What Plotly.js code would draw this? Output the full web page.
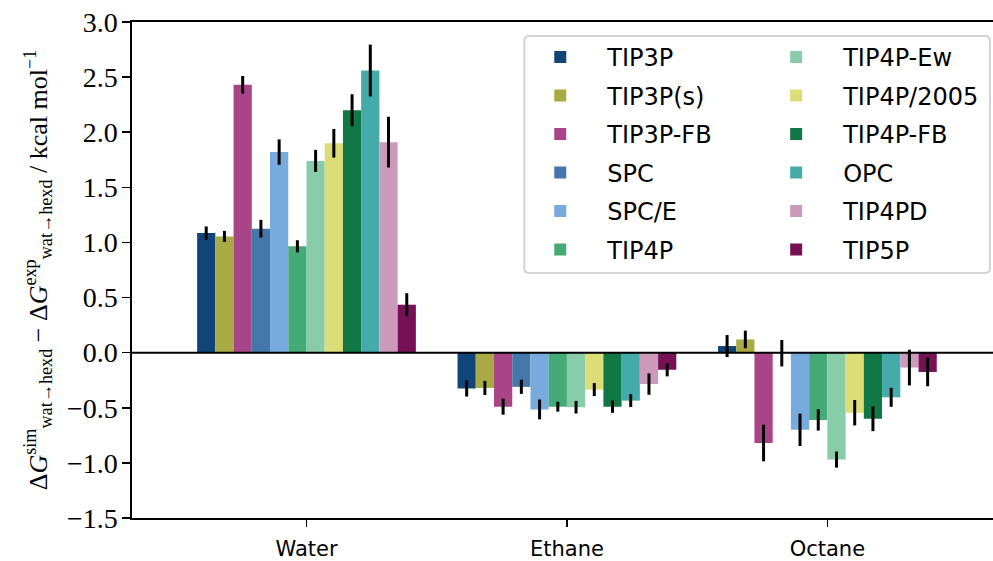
<!DOCTYPE html>
<html>
<head>
<meta charset="utf-8">
<script src="https://cdn.plot.ly/plotly-3.0.1.min.js"></script>
<style>html,body{margin:0;padding:0;background:#fff;}#chart{width:993px;height:561px;}</style>
</head>
<body>
<div id="chart"></div>
<script>
// ---- data ----
var categories = ['Water', 'Ethane', 'Octane'];
var models = ['TIP3P', 'TIP3P(s)', 'TIP3P-FB', 'SPC', 'SPC/E', 'TIP4P',
              'TIP4P-Ew', 'TIP4P/2005', 'TIP4P-FB', 'OPC', 'TIP4PD', 'TIP5P'];
var colors = ['#114477', '#aaaa44', '#aa4488', '#4477aa', '#77aadd', '#44aa77',
              '#88ccaa', '#dddd77', '#117744', '#44aaaa', '#cc99bb', '#771155'];

var waterVals  = [1.085, 1.055, 2.43, 1.125, 1.82, 0.965, 1.74, 1.90, 2.20, 2.56, 1.91, 0.435];
var waterErr   = [0.06, 0.05, 0.08, 0.08, 0.115, 0.055, 0.10, 0.13, 0.145, 0.235, 0.23, 0.105];
var ethaneVals = [-0.325, -0.32, -0.49, -0.31, -0.515, -0.49, -0.495, -0.335, -0.49, -0.435, -0.285, -0.155];
var ethaneErr  = [0.073, 0.064, 0.073, 0.064, 0.09, 0.045, 0.057, 0.059, 0.056, 0.058, 0.097, 0.06];
var octaneVals = [0.06, 0.12, -0.82, -0.005, -0.70, -0.61, -0.97, -0.545, -0.60, -0.405, -0.135, -0.175];
var octaneErr  = [0.10, 0.08, 0.166, 0.12, 0.147, 0.097, 0.073, 0.115, 0.112, 0.086, 0.162, 0.13];

var yTickVals = [-1.5, -1.0, -0.5, 0.0, 0.5, 1.0, 1.5, 2.0, 2.5, 3.0];

// ---- traces ----
var traces = models.map(function (m, i) {
  return {
    type: 'bar',
    name: m,
    x: categories,
    y: [waterVals[i], ethaneVals[i], octaneVals[i]],
    marker: {color: colors[i], line: {width: 0}},
    error_y: {type: 'data', array: [waterErr[i], ethaneErr[i], octaneErr[i]],
              visible: true, color: '#000000', thickness: 3, width: 0},
    legend: i < 6 ? 'legend' : 'legend2',
    legendgroup: 'g' + i,
    hoverinfo: 'x+y+name'
  };
});

var sansFont = 'DejaVu Sans, sans-serif';
var serifFont = '"Liberation Serif", "DejaVu Serif", serif';

var legendCommon = {
  orientation: 'v',
  xanchor: 'left', yanchor: 'top',
  bgcolor: 'rgba(0,0,0,0)', borderwidth: 0,
  font: {family: sansFont, size: 24, color: '#000'},
  itemwidth: 84,
  tracegroupgap: 4.3,
  itemclick: false, itemdoubleclick: false
};

var legend1 = Object.assign({}, legendCommon, {x: 0.4428, y: 0.974});
var legend2 = Object.assign({}, legendCommon, {x: 0.7168, y: 0.974});

// rounded legend frame (paper coords)
var fx0 = 0.4556, fx1 = 0.9965, fy0 = 0.494, fy1 = 0.9718, rx = 0.006, ry = 0.010;
var framePath = 'M' + (fx0 + rx) + ',' + fy1 +
  ' L' + (fx1 - rx) + ',' + fy1 + ' Q' + fx1 + ',' + fy1 + ' ' + fx1 + ',' + (fy1 - ry) +
  ' L' + fx1 + ',' + (fy0 + ry) + ' Q' + fx1 + ',' + fy0 + ' ' + (fx1 - rx) + ',' + fy0 +
  ' L' + (fx0 + rx) + ',' + fy0 + ' Q' + fx0 + ',' + fy0 + ' ' + fx0 + ',' + (fy0 + ry) +
  ' L' + fx0 + ',' + (fy1 - ry) + ' Q' + fx0 + ',' + fy1 + ' ' + (fx0 + rx) + ',' + fy1 + ' Z';

var layout = {
  width: 993, height: 561,
  margin: {l: 131.5, r: 0, t: 22, b: 43, pad: 0},
  paper_bgcolor: '#ffffff', plot_bgcolor: '#ffffff',
  barmode: 'group', bargap: 0.16, bargroupgap: 0,
  showlegend: true,
  legend: legend1,
  legend2: legend2,
  xaxis: {
    type: 'category',
    range: [-0.67, 2.636],
    showline: true, linecolor: '#000', linewidth: 1.7, mirror: true,
    ticks: 'outside', ticklen: 7, tickwidth: 1.5, tickcolor: '#000',
    showgrid: false, zeroline: false,
    tickfont: {family: sansFont, size: 21, color: '#000'},
    ticklabelstandoff: 4
  },
  yaxis: {
    range: [-1.5, 3.0],
    tickvals: yTickVals,
    tickformat: '.1f',
    showline: true, linecolor: '#000', linewidth: 1.7, mirror: false,
    ticks: 'outside', ticklen: 8, tickwidth: 1.5, tickcolor: '#000',
    showgrid: false, zeroline: false,
    tickfont: {family: serifFont, size: 28, color: '#000'},
    ticklabelstandoff: -1,
    title: {
      text: 'Δ<i>G</i><sup>sim</sup><sub>wat→hexd</sub> − Δ<i>G</i><sup>exp</sup><sub>wat→hexd</sub> / kcal mol<sup>−1</sup>',
      font: {family: serifFont, size: 26, color: '#000'},
      standoff: 12
    }
  },
  shapes: [
    {type: 'line', xref: 'paper', yref: 'y', x0: 0, x1: 1, y0: 0, y1: 0,
     line: {color: '#000', width: 2}, layer: 'above'},
    {type: 'path', xref: 'paper', yref: 'paper', path: framePath,
     line: {color: '#d4d4d4', width: 2}, fillcolor: 'rgba(255,255,255,0.8)', layer: 'above'}
  ]
};

Plotly.newPlot('chart', traces, layout, {staticPlot: true, displayModeBar: false});
</script>
</body>
</html>
